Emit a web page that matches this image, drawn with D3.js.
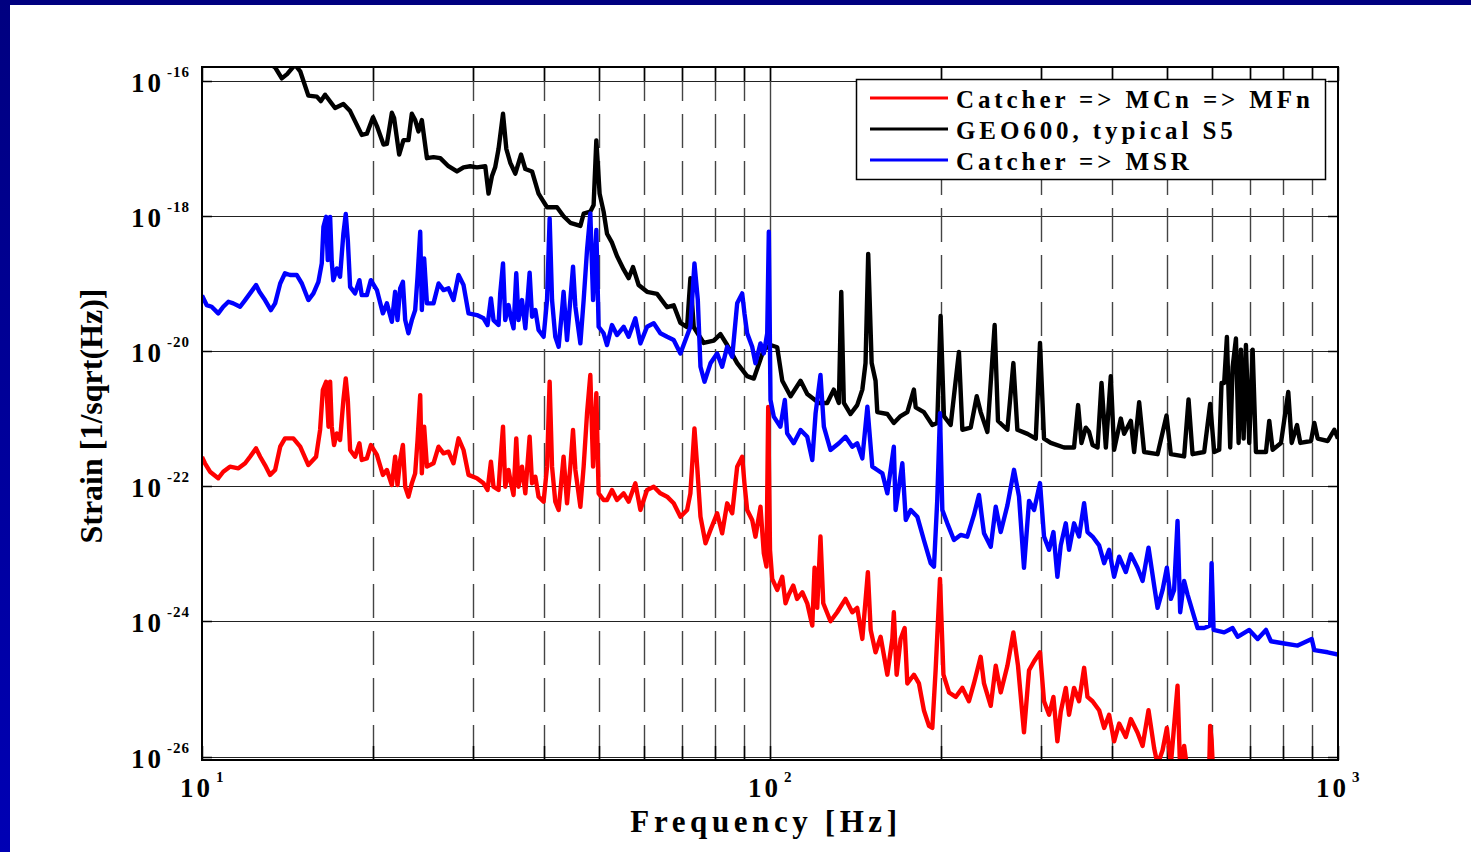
<!DOCTYPE html>
<html>
<head>
<meta charset="utf-8">
<script src="https://cdn.jsdelivr.net/npm/d3@7"></script>
<style>
  body { margin: 0; background: #fff; }
  svg { display: block; }
</style>
</head>
<body>
<script>
// Strain noise spectra: [frequency Hz, strain 1/sqrt(Hz)]
const geo600 = [
  [10, 8e-16], [12, 3e-16], [13.45, 1.6e-16], [13.82, 1.1e-16], [14.12, 1.27e-16], [14.58, 1.75e-16],
  [14.89, 1.4e-16], [15.39, 6.1e-17], [15.93, 5.9e-17], [16.19, 5.06e-17], [16.47, 6.3e-17], [17.15, 4.0e-17],
  [17.74, 4.6e-17], [18.23, 3.6e-17], [19.11, 1.6e-17], [19.51, 1.67e-17], [20.0, 2.93e-17], [20.32, 2.16e-17],
  [20.87, 1.15e-17], [21.16, 1.18e-17], [21.59, 3.4e-17], [21.79, 2.83e-17], [22.24, 8.2e-18], [22.63, 1.34e-17],
  [23.09, 1.34e-17], [23.41, 3.3e-17], [23.73, 2.65e-17], [24.05, 1.8e-17], [24.38, 2.65e-17], [24.89, 7.24e-18],
  [25.56, 7.5e-18], [26.27, 7.24e-18], [27.16, 5.5e-18], [28.11, 4.6e-18], [28.87, 5.3e-18], [29.67, 5.5e-18],
  [30.48, 5.3e-18], [31.53, 5.5e-18], [31.95, 2.16e-18], [32.4, 3.95e-18], [32.82, 5.3e-18], [33.27, 9.9e-18],
  [33.88, 3.3e-17], [34.34, 9.9e-18], [34.89, 6.2e-18], [35.61, 4.27e-18], [36.45, 8.2e-18], [37.09, 5.0e-18],
  [38.11, 4.6e-18], [39.13, 2.16e-18], [40.5, 1.36e-18], [42.17, 1.36e-18], [43.31, 1.0e-18], [44.51, 8.0e-19],
  [46.36, 7.2e-19], [46.98, 1.09e-18], [48.27, 1.17e-18], [48.92, 1.47e-18], [49.46, 1.33e-17], [50.12, 2.16e-18],
  [50.94, 1.17e-18], [51.65, 5.5e-19], [52.7, 4.06e-19], [53.78, 2.57e-19], [55.25, 1.63e-19], [56.38, 1.21e-19],
  [57.39, 1.77e-19], [58.71, 9.6e-20], [60.75, 7.6e-20], [63.27, 7.1e-20], [65.89, 4.5e-20], [67.68, 4.8e-20],
  [69.55, 2.64e-20], [71.46, 2.29e-20], [72.42, 1.21e-19], [73.4, 2.29e-20], [76.43, 1.33e-20], [79.62, 1.44e-20],
  [81.8, 1.8e-20], [84.06, 1.24e-20], [87.54, 6.7e-21], [91.16, 4.3e-21], [93.66, 3.95e-21], [97.52, 1.06e-20],
  [100.2, 1.24e-20], [102.97, 1.15e-20], [105.1, 3.67e-21], [108.7, 2.16e-21], [113.2, 3.67e-21], [116.3, 2.33e-21],
  [121.9, 1.72e-21], [126.1, 1.72e-21], [129.5, 2.71e-21], [132.2, 1.72e-21], [133.5, 7.6e-20], [134.9, 1.72e-21],
  [138.6, 1.18e-21], [142.4, 1.6e-21], [145.4, 2.71e-21], [147.3, 6.7e-21], [148.9, 2.77e-19], [151.0, 6.7e-21],
  [153.4, 3.67e-21], [154.5, 1.26e-21], [160.9, 1.18e-21], [165.2, 8.7e-22], [169.8, 1.1e-21], [174.5, 1.26e-21],
  [179.2, 2.71e-21], [180.5, 1.48e-21], [186.6, 1.26e-21], [193.1, 8.1e-22], [197.0, 8.7e-22], [199.7, 3.33e-20],
  [202.4, 1.1e-21], [208.0, 8.1e-22], [215.1, 9.8e-21], [218.1, 6.9e-22], [225.6, 7.4e-22], [231.2, 2.16e-21],
  [234.9, 1.26e-21], [241.4, 6.4e-22], [248.6, 2.45e-20], [252.0, 9.3e-22], [261.8, 6.9e-22], [268.2, 6.7e-21],
  [272.6, 6.9e-22], [284.0, 6.0e-22], [293.7, 5.1e-22], [298.8, 1.33e-20], [303.7, 5.1e-22], [312.1, 4.4e-22],
  [329.4, 3.77e-22], [343.0, 3.77e-22], [348.7, 1.6e-21], [353.5, 4.4e-22], [359.7, 7.4e-22], [364.6, 6.4e-22],
  [369.7, 4.1e-22], [377.3, 3.77e-22], [383.4, 3.4e-21], [390.2, 3.77e-22], [398.1, 4.3e-21], [403.5, 3.48e-22],
  [414.6, 1.01e-21], [420.2, 6.0e-22], [431.8, 9.35e-22], [437.6, 3.23e-22], [446.6, 1.77e-21], [455.7, 3.23e-22],
  [481.2, 3.0e-22], [499.0, 1.12e-21], [507.8, 3.0e-22], [535.9, 2.78e-22], [545.6, 1.94e-21], [554.5, 3.0e-22],
  [581.3, 3.23e-22], [595.6, 1.66e-21], [605.4, 3.23e-22], [617.8, 3.48e-22], [623.7, 3.4e-21], [630.4, 3.4e-21],
  [637.4, 1.63e-20], [646.0, 3.77e-22], [652.3, 5.8e-21], [661.2, 1.55e-20], [668.4, 4.4e-22], [674.7, 1.06e-20],
  [682.1, 5.1e-22], [688.5, 1.24e-20], [697.8, 4.4e-22], [707.5, 1.06e-20], [717.0, 3.23e-22], [746.7, 3.23e-22],
  [756.8, 9.35e-22], [767.2, 3.48e-22], [793.6, 4.4e-22], [817.4, 2.5e-21], [828.8, 4.4e-22], [846.9, 8.1e-22],
  [858.3, 4.4e-22], [896.4, 4.7e-22], [908.5, 8.7e-22], [921.1, 5.1e-22], [959.2, 4.7e-22], [985.1, 6.9e-22],
  [1000, 5.1e-22]
];

const catcherMSR = [
  [10, 6.7e-20], [10.19, 4.84e-20], [10.4, 4.57e-20], [10.68, 3.65e-20], [10.9, 4.57e-20], [11.13, 5.42e-20],
  [11.35, 5.13e-20], [11.67, 4.57e-20], [11.91, 5.74e-20], [12.15, 7.2e-20], [12.45, 9.57e-20], [12.62, 7.6e-20],
  [12.91, 5.74e-20], [13.22, 4.08e-20], [13.45, 5.13e-20], [13.73, 1.01e-19], [14.0, 1.43e-19], [14.29, 1.35e-19],
  [14.68, 1.35e-19], [14.99, 1.01e-19], [15.39, 5.74e-20], [15.71, 7.2e-20], [16.03, 1.07e-19], [16.25, 2.0e-19],
  [16.36, 6.98e-19], [16.54, 9.8e-19], [16.65, 2.24e-19], [16.81, 9.8e-19], [16.92, 2.12e-19], [17.03, 1.13e-19],
  [17.27, 1.69e-19], [17.5, 1.27e-19], [17.74, 5.57e-19], [17.91, 1.08e-18], [18.06, 4.44e-19], [18.23, 9.0e-20],
  [18.6, 7.2e-20], [18.93, 1.13e-19], [19.11, 6.8e-20], [19.51, 6.8e-20], [19.83, 1.13e-19], [20.32, 8.07e-20],
  [20.82, 3.65e-20], [21.16, 5.13e-20], [21.59, 2.74e-20], [21.88, 7.6e-20], [22.09, 2.9e-20], [22.33, 8.55e-20],
  [22.58, 1.07e-19], [22.79, 2.9e-20], [23.09, 1.85e-20], [23.41, 2.9e-20], [23.73, 4.08e-20], [23.96, 1.27e-19],
  [24.22, 5.89e-19], [24.38, 4.08e-20], [24.61, 2.38e-19], [24.89, 5.13e-20], [25.56, 5.13e-20], [26.09, 1.01e-19],
  [26.62, 8.07e-20], [27.16, 8.55e-20], [27.72, 5.74e-20], [28.29, 1.35e-19], [28.87, 9.57e-20], [29.46, 3.65e-20],
  [30.48, 3.44e-20], [31.31, 3.08e-20], [31.82, 2.45e-20], [32.26, 6.08e-20], [32.6, 2.9e-20], [33.27, 2.45e-20],
  [33.5, 7.2e-20], [33.88, 2.0e-19], [34.19, 2.9e-20], [34.65, 4.84e-20], [34.99, 3.08e-20], [35.36, 2.19e-20],
  [35.75, 1.43e-19], [36.08, 2.9e-20], [36.59, 5.74e-20], [37.09, 2.19e-20], [37.74, 1.46e-19], [38.11, 3.25e-20],
  [38.63, 4.08e-20], [39.13, 2.07e-20], [39.94, 1.64e-20], [40.5, 5.74e-20], [40.93, 9.29e-19], [41.33, 5.74e-20],
  [41.88, 1.64e-20], [42.45, 1.17e-20], [43.04, 4.08e-20], [43.31, 7.6e-20], [43.92, 1.47e-20], [44.51, 5.74e-20],
  [45.0, 1.79e-19], [45.43, 4.57e-20], [46.36, 1.31e-20], [46.98, 5.74e-20], [47.63, 3.16e-19], [48.27, 1.1e-18],
  [48.81, 5.74e-20], [49.46, 6.24e-19], [49.92, 2.31e-20], [50.94, 1.85e-20], [51.65, 1.24e-20], [52.7, 2.45e-20],
  [53.78, 1.74e-20], [55.25, 2.31e-20], [56.38, 1.64e-20], [57.94, 3.08e-20], [59.13, 1.31e-20], [60.75, 2.31e-20],
  [62.42, 2.6e-20], [64.12, 1.85e-20], [65.89, 1.64e-20], [67.68, 1.47e-20], [69.55, 9.3e-21], [70.98, 1.47e-20],
  [72.42, 2.31e-20], [73.62, 2.0e-19], [74.63, 5.74e-20], [75.44, 5.9e-21], [76.68, 3.55e-21], [78.56, 6.64e-21],
  [80.72, 9.3e-21], [82.37, 5.9e-21], [84.06, 1.17e-20], [85.8, 8.3e-21], [87.54, 5.13e-20], [89.34, 7.2e-20],
  [90.16, 3.65e-20], [91.16, 1.85e-20], [93.03, 1.17e-20], [94.28, 6.64e-21], [96.22, 1.31e-20], [97.52, 9.3e-21],
  [98.88, 1.85e-20], [99.52, 5.89e-19], [100.2, 1.9e-21], [101.55, 1.08e-21], [104.3, 7.66e-22], [106.2, 1.9e-21],
  [107.2, 6.1e-22], [110.1, 4.35e-22], [113.2, 6.84e-22], [116.3, 5.44e-22], [118.7, 2.46e-22], [120.3, 1.21e-21],
  [122.7, 4.46e-21], [124.4, 7.66e-22], [127.8, 3.46e-22], [132.2, 4.35e-22], [135.8, 5.44e-22], [139.6, 3.87e-22],
  [142.4, 4.35e-22], [145.4, 2.6e-22], [148.4, 1.51e-21], [151.4, 1.96e-22], [154.5, 1.75e-22], [157.7, 1.56e-22],
  [160.9, 7.9e-23], [165.2, 3.87e-22], [166.4, 4.48e-23], [171.0, 2.2e-22], [173.4, 3.19e-23], [176.9, 4.48e-23],
  [181.7, 3.56e-23], [186.6, 1.61e-23], [191.8, 7.3e-24], [194.4, 6.5e-24], [197.0, 6.3e-23], [199.2, 1.21e-21],
  [201.1, 4.48e-23], [205.2, 2.84e-23], [210.8, 1.61e-23], [216.6, 1.91e-23], [222.5, 1.8e-23], [228.6, 3.78e-23],
  [233.3, 7.46e-23], [238.1, 2.02e-23], [244.7, 1.28e-23], [249.7, 5.0e-23], [254.8, 2.11e-23], [261.8, 5.24e-23],
  [268.9, 1.76e-22], [274.4, 7.1e-23], [280.0, 6.25e-24], [285.8, 6.1e-23], [291.7, 4.48e-23], [298.8, 1.12e-22],
  [303.7, 1.81e-23], [310.0, 1.15e-23], [315.5, 2.11e-23], [320.6, 4.6e-24], [325.0, 1.34e-23], [331.7, 2.84e-23],
  [336.1, 1.15e-23], [343.0, 2.84e-23], [350.0, 1.81e-23], [357.3, 5.65e-23], [362.2, 2.11e-23], [369.7, 1.81e-23],
  [379.7, 1.34e-23], [387.5, 7.3e-24], [395.4, 1.15e-23], [403.5, 4.6e-24], [411.8, 9.1e-24], [423.1, 5.4e-24],
  [431.8, 9.86e-24], [443.6, 6.25e-24], [452.9, 3.98e-24], [463.9, 1.24e-23], [474.6, 3.4e-24], [481.2, 1.59e-24],
  [491.1, 2.93e-24], [499.7, 6.25e-24], [507.8, 2.16e-24], [514.6, 2.93e-24], [521.8, 3.08e-23], [527.4, 1.37e-24],
  [535.9, 3.98e-24], [543.4, 2.51e-24], [558.2, 1.17e-24], [566.0, 8.0e-25], [581.3, 8.0e-25], [595.6, 8.7e-25],
  [599.0, 7.3e-24], [603.9, 7.5e-25], [630.4, 6.9e-25], [652.3, 8.0e-25], [665.7, 5.94e-25], [697.8, 7.5e-25],
  [722.0, 5.5e-25], [746.7, 7.5e-25], [762.0, 5.1e-25], [804.4, 4.73e-25], [849.2, 4.4e-25], [898.9, 5.5e-25],
  [908.5, 3.77e-25], [959.2, 3.5e-25], [1000, 3.24e-25]
];

const catcherMCnMFn = [
  [10, 2.72e-22], [10.12, 2.2e-22], [10.33, 1.65e-22], [10.68, 1.32e-22], [10.9, 1.65e-22], [11.2, 1.96e-22],
  [11.59, 1.85e-22], [11.91, 2.2e-22], [12.15, 2.75e-22], [12.45, 3.66e-22], [12.66, 2.75e-22], [12.91, 2.07e-22],
  [13.18, 1.48e-22], [13.45, 1.75e-22], [13.73, 3.87e-22], [14.0, 5.15e-22], [14.48, 5.15e-22], [14.89, 3.87e-22],
  [15.39, 2.07e-22], [15.88, 2.75e-22], [16.14, 6.84e-22], [16.32, 2.67e-21], [16.54, 3.55e-21], [16.7, 7.66e-22],
  [16.81, 3.55e-21], [16.92, 7.66e-22], [17.08, 4.1e-22], [17.27, 6.1e-22], [17.5, 4.86e-22], [17.74, 1.9e-21],
  [17.91, 3.98e-21], [18.06, 1.9e-21], [18.23, 3.46e-22], [18.6, 2.75e-22], [18.93, 4.35e-22], [19.11, 2.46e-22],
  [19.51, 2.6e-22], [19.83, 4.1e-22], [20.32, 2.92e-22], [20.82, 1.48e-22], [21.16, 1.75e-22], [21.59, 1.05e-22],
  [21.88, 2.75e-22], [22.09, 1.05e-22], [22.33, 2.46e-22], [22.58, 4.1e-22], [22.79, 9.9e-23], [23.09, 7.05e-23],
  [23.41, 1.11e-22], [23.73, 1.56e-22], [23.96, 4.86e-22], [24.22, 2.25e-21], [24.38, 1.56e-22], [24.61, 7.66e-22],
  [24.89, 1.96e-22], [25.56, 2.2e-22], [26.09, 3.87e-22], [26.62, 3.09e-22], [27.16, 3.27e-22], [27.72, 2.2e-22],
  [28.29, 5.15e-22], [28.87, 3.46e-22], [29.46, 1.48e-22], [30.48, 1.32e-22], [31.31, 1.11e-22], [31.82, 8.85e-23],
  [32.26, 2.32e-22], [32.6, 9.9e-23], [33.27, 8.85e-23], [33.5, 2.2e-22], [33.88, 7.66e-22], [34.19, 9.9e-23],
  [34.65, 1.75e-22], [34.99, 1.11e-22], [35.36, 7.46e-23], [35.75, 5.15e-22], [36.08, 9.9e-23], [36.59, 1.96e-22],
  [37.09, 7.9e-23], [37.74, 5.44e-22], [38.11, 1.11e-22], [38.63, 1.39e-22], [39.13, 7.05e-23], [39.94, 5.94e-23],
  [40.5, 1.96e-22], [40.93, 3.55e-21], [41.33, 1.96e-22], [41.88, 5.94e-23], [42.45, 4.48e-23], [43.04, 1.56e-22],
  [43.31, 2.75e-22], [43.92, 5.62e-23], [44.51, 1.96e-22], [45.0, 6.84e-22], [45.43, 1.75e-22], [46.36, 5.0e-23],
  [46.98, 1.96e-22], [47.63, 1.21e-21], [48.27, 4.46e-21], [48.81, 1.96e-22], [49.46, 2.39e-21], [49.92, 7.9e-23],
  [50.94, 6.3e-23], [51.65, 6.3e-23], [52.7, 8.85e-23], [53.78, 6.3e-23], [55.25, 7.9e-23], [56.38, 5.94e-23],
  [57.94, 1.11e-22], [59.13, 4.48e-23], [60.75, 8.85e-23], [62.42, 9.9e-23], [64.12, 7.9e-23], [65.89, 7.05e-23],
  [67.68, 5.62e-23], [69.55, 3.56e-23], [71.46, 4.48e-23], [72.42, 7.9e-23], [73.62, 7.24e-22], [74.44, 1.96e-22],
  [75.44, 3.56e-23], [77.0, 1.44e-23], [78.56, 2.26e-23], [80.72, 4.0e-23], [82.37, 2.02e-23], [84.06, 5.62e-23],
  [85.8, 4.0e-23], [87.54, 1.96e-22], [89.34, 2.75e-22], [90.16, 1.11e-22], [91.16, 4.48e-23], [93.03, 3.19e-23],
  [94.28, 1.8e-23], [96.22, 5.0e-23], [97.52, 1.02e-23], [98.58, 6.5e-24], [99.27, 1.5e-21], [100.0, 1.15e-23],
  [100.9, 4.27e-24], [102.97, 2.93e-24], [105.1, 4.6e-24], [106.5, 1.86e-24], [107.9, 2.51e-24], [109.9, 3.4e-24],
  [111.6, 2.16e-24], [114.0, 2.71e-24], [116.3, 1.86e-24], [118.7, 8.7e-25], [119.8, 6.25e-24], [121.1, 1.59e-24],
  [122.7, 1.81e-23], [124.1, 1.86e-24], [127.8, 1.01e-24], [131.3, 1.37e-24], [135.8, 2.16e-24], [139.6, 1.37e-24],
  [142.4, 1.59e-24], [145.4, 5.52e-25], [148.7, 5.38e-24], [150.4, 7.5e-25], [153.4, 3.5e-25], [156.6, 5.94e-25],
  [160.9, 1.63e-25], [164.2, 5.52e-25], [165.2, 1.37e-24], [167.1, 1.63e-25], [169.8, 5.52e-25], [172.6, 8.0e-25],
  [174.5, 1.21e-25], [179.2, 1.63e-25], [182.9, 1.21e-25], [186.6, 4.86e-26], [190.5, 2.85e-26], [193.1, 2.66e-26],
  [195.7, 1.9e-25], [199.2, 4.27e-24], [202.0, 1.63e-25], [206.6, 8.9e-26], [212.3, 7.64e-26], [218.1, 1.04e-25],
  [224.0, 6.6e-26], [228.6, 1.21e-25], [234.9, 3.0e-25], [238.1, 1.21e-25], [244.7, 5.65e-26], [249.7, 2.21e-25],
  [254.8, 8.9e-26], [261.8, 2.21e-25], [268.2, 6.9e-25], [273.3, 2.21e-25], [280.0, 2.28e-26], [285.8, 1.9e-25],
  [291.7, 2.58e-25], [298.8, 3.5e-25], [303.7, 6.6e-26], [310.0, 4.17e-26], [315.5, 7.64e-26], [320.6, 1.68e-26],
  [325.0, 4.6e-26], [331.7, 1.04e-25], [336.1, 4.17e-26], [343.0, 1.04e-25], [350.0, 6.6e-26], [357.3, 2.06e-25],
  [362.2, 7.64e-26], [369.7, 6.6e-26], [379.7, 4.86e-26], [387.5, 2.66e-26], [395.4, 4.17e-26], [403.5, 1.68e-26],
  [411.8, 3.08e-26], [423.1, 1.95e-26], [431.8, 3.59e-26], [443.6, 2.28e-26], [452.9, 1.44e-26], [463.9, 4.86e-26],
  [474.6, 1.33e-26], [481.2, 7.6e-27], [491.1, 1.24e-26], [499.7, 2.66e-26], [507.8, 7.6e-27], [521.8, 1.12e-25],
  [527.4, 6e-27], [535.9, 1.44e-26], [543.4, 6e-27], [574.0, 5e-27], [592.7, 4.6e-27], [595.6, 2.85e-26],
  [599.0, 1.78e-26], [603.9, 4e-27]
];

const seriesNames = ["Catcher => MCn => MFn", "GEO600, typical S5", "Catcher => MSR"];
const seriesColors = ["#ff0000", "#000000", "#0000ff"];
const seriesData = [catcherMCnMFn, geo600, catcherMSR];

const xMajorTicks = [10, 100, 1000];
const xMinorTicks = [20, 30, 40, 50, 60, 70, 80, 90, 200, 300, 400, 500, 600, 700, 800, 900];
const yTicks = [1e-26, 1e-24, 1e-22, 1e-20, 1e-18, 1e-16];

const width = 1471;
const height = 852;
const plot = { left: 202, right: 1338, top: 67, bottom: 760 };
const serif = "'Liberation Serif', 'Times New Roman', Times, serif";

const svg = d3.select("body")
  .append("svg")
  .attr("width", width)
  .attr("height", height)
  .attr("viewBox", `0 0 ${width} ${height}`);

// slide background with navy border on top and left
const defs = svg.append("defs");
const grad = defs.append("linearGradient")
  .attr("id", "navy")
  .attr("x1", 0).attr("y1", 0).attr("x2", 0).attr("y2", 1);
grad.append("stop").attr("offset", "0%").attr("stop-color", "#000080");
grad.append("stop").attr("offset", "100%").attr("stop-color", "#0000b4");

svg.append("rect").attr("width", width).attr("height", height).attr("fill", "#ffffff");
svg.append("rect").attr("x", 0).attr("y", 0).attr("width", width).attr("height", 5).attr("fill", "#000080");
svg.append("rect").attr("x", 0).attr("y", 0).attr("width", 10).attr("height", height).attr("fill", "url(#navy)");

defs.append("clipPath")
  .attr("id", "plot-clip")
  .append("rect")
  .attr("x", plot.left)
  .attr("y", plot.top)
  .attr("width", plot.right - plot.left)
  .attr("height", plot.bottom - plot.top);

const x = d3.scaleLog().domain([10, 1000]).range([plot.left, plot.right]);
const y = d3.scaleLog().domain([8.9e-27, 1.62e-16]).range([plot.bottom, plot.top]);

// grid
const grid = svg.append("g");
grid.selectAll("line.hgrid")
  .data(yTicks)
  .join("line")
  .attr("class", "hgrid")
  .attr("x1", plot.left).attr("x2", plot.right)
  .attr("y1", (d) => Math.round(y(d)) + 0.5)
  .attr("y2", (d) => Math.round(y(d)) + 0.5)
  .attr("stroke", "#222")
  .attr("stroke-width", 1.2);

grid.selectAll("line.vgrid")
  .data(xMinorTicks)
  .join("line")
  .attr("class", "vgrid")
  .attr("x1", (d) => Math.round(x(d)) + 0.5)
  .attr("x2", (d) => Math.round(x(d)) + 0.5)
  .attr("y1", plot.top)
  .attr("y2", plot.bottom)
  .attr("stroke", "#444")
  .attr("stroke-width", 1.4)
  .attr("stroke-dasharray", "34,13");

grid.append("line")
  .attr("x1", Math.round(x(100)) + 0.5).attr("x2", Math.round(x(100)) + 0.5)
  .attr("y1", plot.top).attr("y2", plot.bottom)
  .attr("stroke", "#444")
  .attr("stroke-width", 1.4);

// ticks on all four sides
const ticks = svg.append("g").attr("stroke", "#000").attr("stroke-width", 1.5);
xMinorTicks.concat(xMajorTicks).forEach((t) => {
  const px = Math.round(x(t)) + 0.5;
  ticks.append("line").attr("x1", px).attr("x2", px).attr("y1", plot.bottom).attr("y2", plot.bottom - 14);
  ticks.append("line").attr("x1", px).attr("x2", px).attr("y1", plot.top).attr("y2", plot.top + 14);
});
yTicks.forEach((t) => {
  const py = Math.round(y(t)) + 0.5;
  ticks.append("line").attr("x1", plot.left).attr("x2", plot.left + 10).attr("y1", py).attr("y2", py);
  ticks.append("line").attr("x1", plot.right).attr("x2", plot.right - 10).attr("y1", py).attr("y2", py);
});

// curves
const line = d3.line()
  .x((d) => x(d[0]))
  .y((d) => y(d[1]));

svg.append("g")
  .attr("clip-path", "url(#plot-clip)")
  .selectAll("path")
  .data(seriesData)
  .join("path")
  .attr("d", line)
  .attr("fill", "none")
  .attr("stroke", (d, i) => seriesColors[i])
  .attr("stroke-width", 4.4)
  .attr("stroke-linejoin", "round");

// frame
svg.append("rect")
  .attr("x", plot.left)
  .attr("y", plot.top)
  .attr("width", plot.right - plot.left)
  .attr("height", plot.bottom - plot.top)
  .attr("fill", "none")
  .attr("stroke", "#000")
  .attr("stroke-width", 2);

// y tick labels: 10^exp
const labels = svg.append("g").attr("font-family", serif).attr("font-weight", "bold").attr("fill", "#000");
yTicks.forEach((t) => {
  const py = y(t);
  labels.append("text")
    .attr("x", 164)
    .attr("y", py + 11)
    .attr("text-anchor", "end")
    .attr("font-size", 27)
    .attr("letter-spacing", 3)
    .text("10");
  labels.append("text")
    .attr("x", 167)
    .attr("y", py - 4)
    .attr("font-size", 15)
    .attr("letter-spacing", 1)
    .text(String(Math.round(Math.log10(t))));
});

// x tick labels
xMajorTicks.forEach((t) => {
  const px = x(t);
  labels.append("text")
    .attr("x", px - 22)
    .attr("y", 797)
    .attr("font-size", 27)
    .attr("letter-spacing", 3)
    .text("10");
  labels.append("text")
    .attr("x", px + 14)
    .attr("y", 782)
    .attr("font-size", 15)
    .text(String(Math.round(Math.log10(t))));
});

// axis titles
svg.append("text")
  .attr("x", 766)
  .attr("y", 832)
  .attr("text-anchor", "middle")
  .attr("font-family", serif)
  .attr("font-weight", "bold")
  .attr("font-size", 31)
  .attr("letter-spacing", 4.6)
  .text("Frequency [Hz]");

svg.append("text")
  .attr("transform", "translate(102,416) rotate(-90)")
  .attr("text-anchor", "middle")
  .attr("font-family", serif)
  .attr("font-weight", "bold")
  .attr("font-size", 32)
  .text("Strain [1/sqrt(Hz)]");

// legend
const legend = svg.append("g");
legend.append("rect")
  .attr("x", 856.5)
  .attr("y", 79.5)
  .attr("width", 469)
  .attr("height", 100)
  .attr("fill", "#fff")
  .attr("stroke", "#000")
  .attr("stroke-width", 1.5);

seriesNames.forEach((name, i) => {
  const ly = 98 + i * 31;
  legend.append("line")
    .attr("x1", 870).attr("x2", 948)
    .attr("y1", ly).attr("y2", ly)
    .attr("stroke", seriesColors[i])
    .attr("stroke-width", 3);
  legend.append("text")
    .attr("x", 956)
    .attr("y", ly + 10)
    .attr("font-family", serif)
    .attr("font-weight", "bold")
    .attr("font-size", 25)
    .attr("letter-spacing", 3.9)
    .text(name);
});
</script>
</body>
</html>
